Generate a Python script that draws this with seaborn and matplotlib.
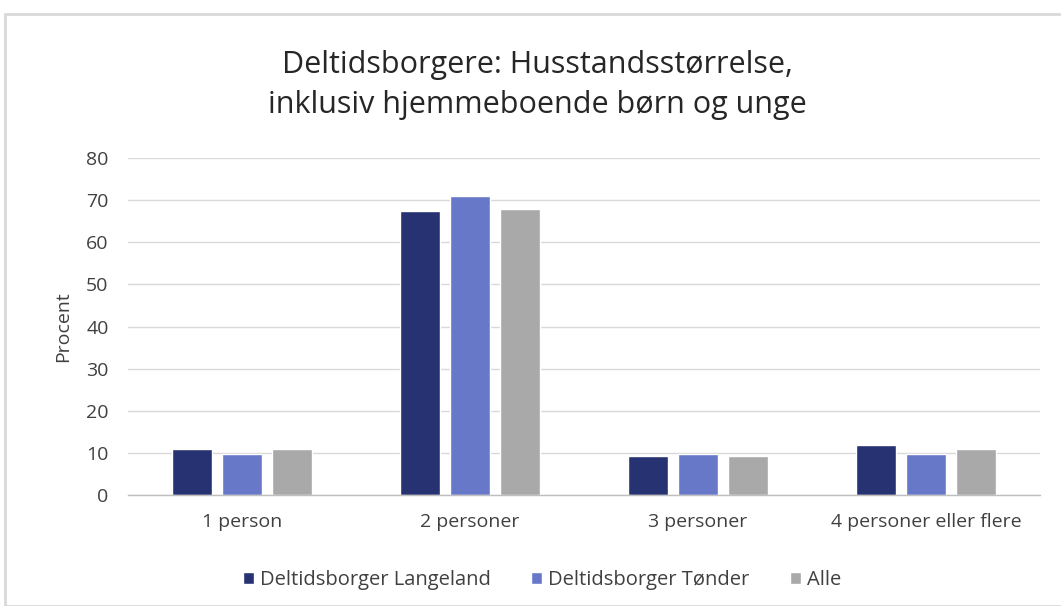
import matplotlib
matplotlib.use("Agg")
import matplotlib.pyplot as plt
import seaborn as sns
import pandas as pd
from matplotlib.patches import Rectangle

categories = ["1 person", "2 personer", "3 personer", "4 personer eller flere"]
series = ["Deltidsborger Langeland", "Deltidsborger Tønder", "Alle"]
langeland = [11.0, 67.3, 9.3, 11.9]
tonder = [9.8, 70.9, 9.7, 9.7]
alle = [11.0, 67.9, 9.3, 11.0]
yticks = [0, 10, 20, 30, 40, 50, 60, 70, 80]
colors = ["#263272", "#6878C9", "#A9A9A9"]

rows = []
for s, vals in zip(series, [langeland, tonder, alle]):
    for c, v in zip(categories, vals):
        rows.append({"Kategori": c, "Serie": s, "Procent": v})
df = pd.DataFrame(rows)

sns.set_theme(style="white")
plt.rcParams["font.family"] = ["Open Sans", "DejaVu Sans"]

fig = plt.figure(figsize=(10.61, 6.06), dpi=100)
ax = fig.add_axes([128 / 1061, 1 - 495 / 606, (1040 - 128) / 1061, (495 - 158) / 606])

sns.barplot(data=df, x="Kategori", y="Procent", hue="Serie", order=categories,
            hue_order=series, palette=colors, width=0.66, gap=0.2,
            saturation=1, ax=ax, legend=True)

ax.set_ylim(0, 80)
ax.set_yticks(yticks)
ax.set_yticklabels([str(t) for t in yticks], fontsize=14, color="#404040")
ax.tick_params(axis="x", labelsize=14, labelcolor="#404040", length=0, pad=13)
ax.tick_params(axis="y", length=0, pad=14)
ax.set_xlabel("")
ax.set_ylabel("Procent", fontsize=14, color="#404040", labelpad=10)
ax.grid(axis="y", color="#D9D9D9", linewidth=1)
ax.set_axisbelow(True)
for sp in ["top", "right", "left"]:
    ax.spines[sp].set_visible(False)
ax.spines["bottom"].set_color("#BFBFBF")
ax.spines["bottom"].set_linewidth(1)

ax.legend(loc="upper center", bbox_to_anchor=((542 - 128) / 912, -0.17), ncol=3, frameon=False,
          fontsize=14.5, handlelength=0.55, handleheight=0.55, handletextpad=0.3,
          columnspacing=2.0, labelcolor="#404040")

fig.text(537 / 1061, 1 - 85 / 606, "Deltidsborgere: Husstandsstørrelse,\ninklusiv hjemmeboende børn og unge",
         ha="center", va="center", fontsize=22, color="#262626", linespacing=1.4)

fig.patches.append(Rectangle((5 / 1061, 0), 1.2, 1 - 14 / 606, transform=fig.transFigure,
                             fill=False, edgecolor="#D9D9D9", linewidth=2))

fig.savefig("out.png", dpi=100)
